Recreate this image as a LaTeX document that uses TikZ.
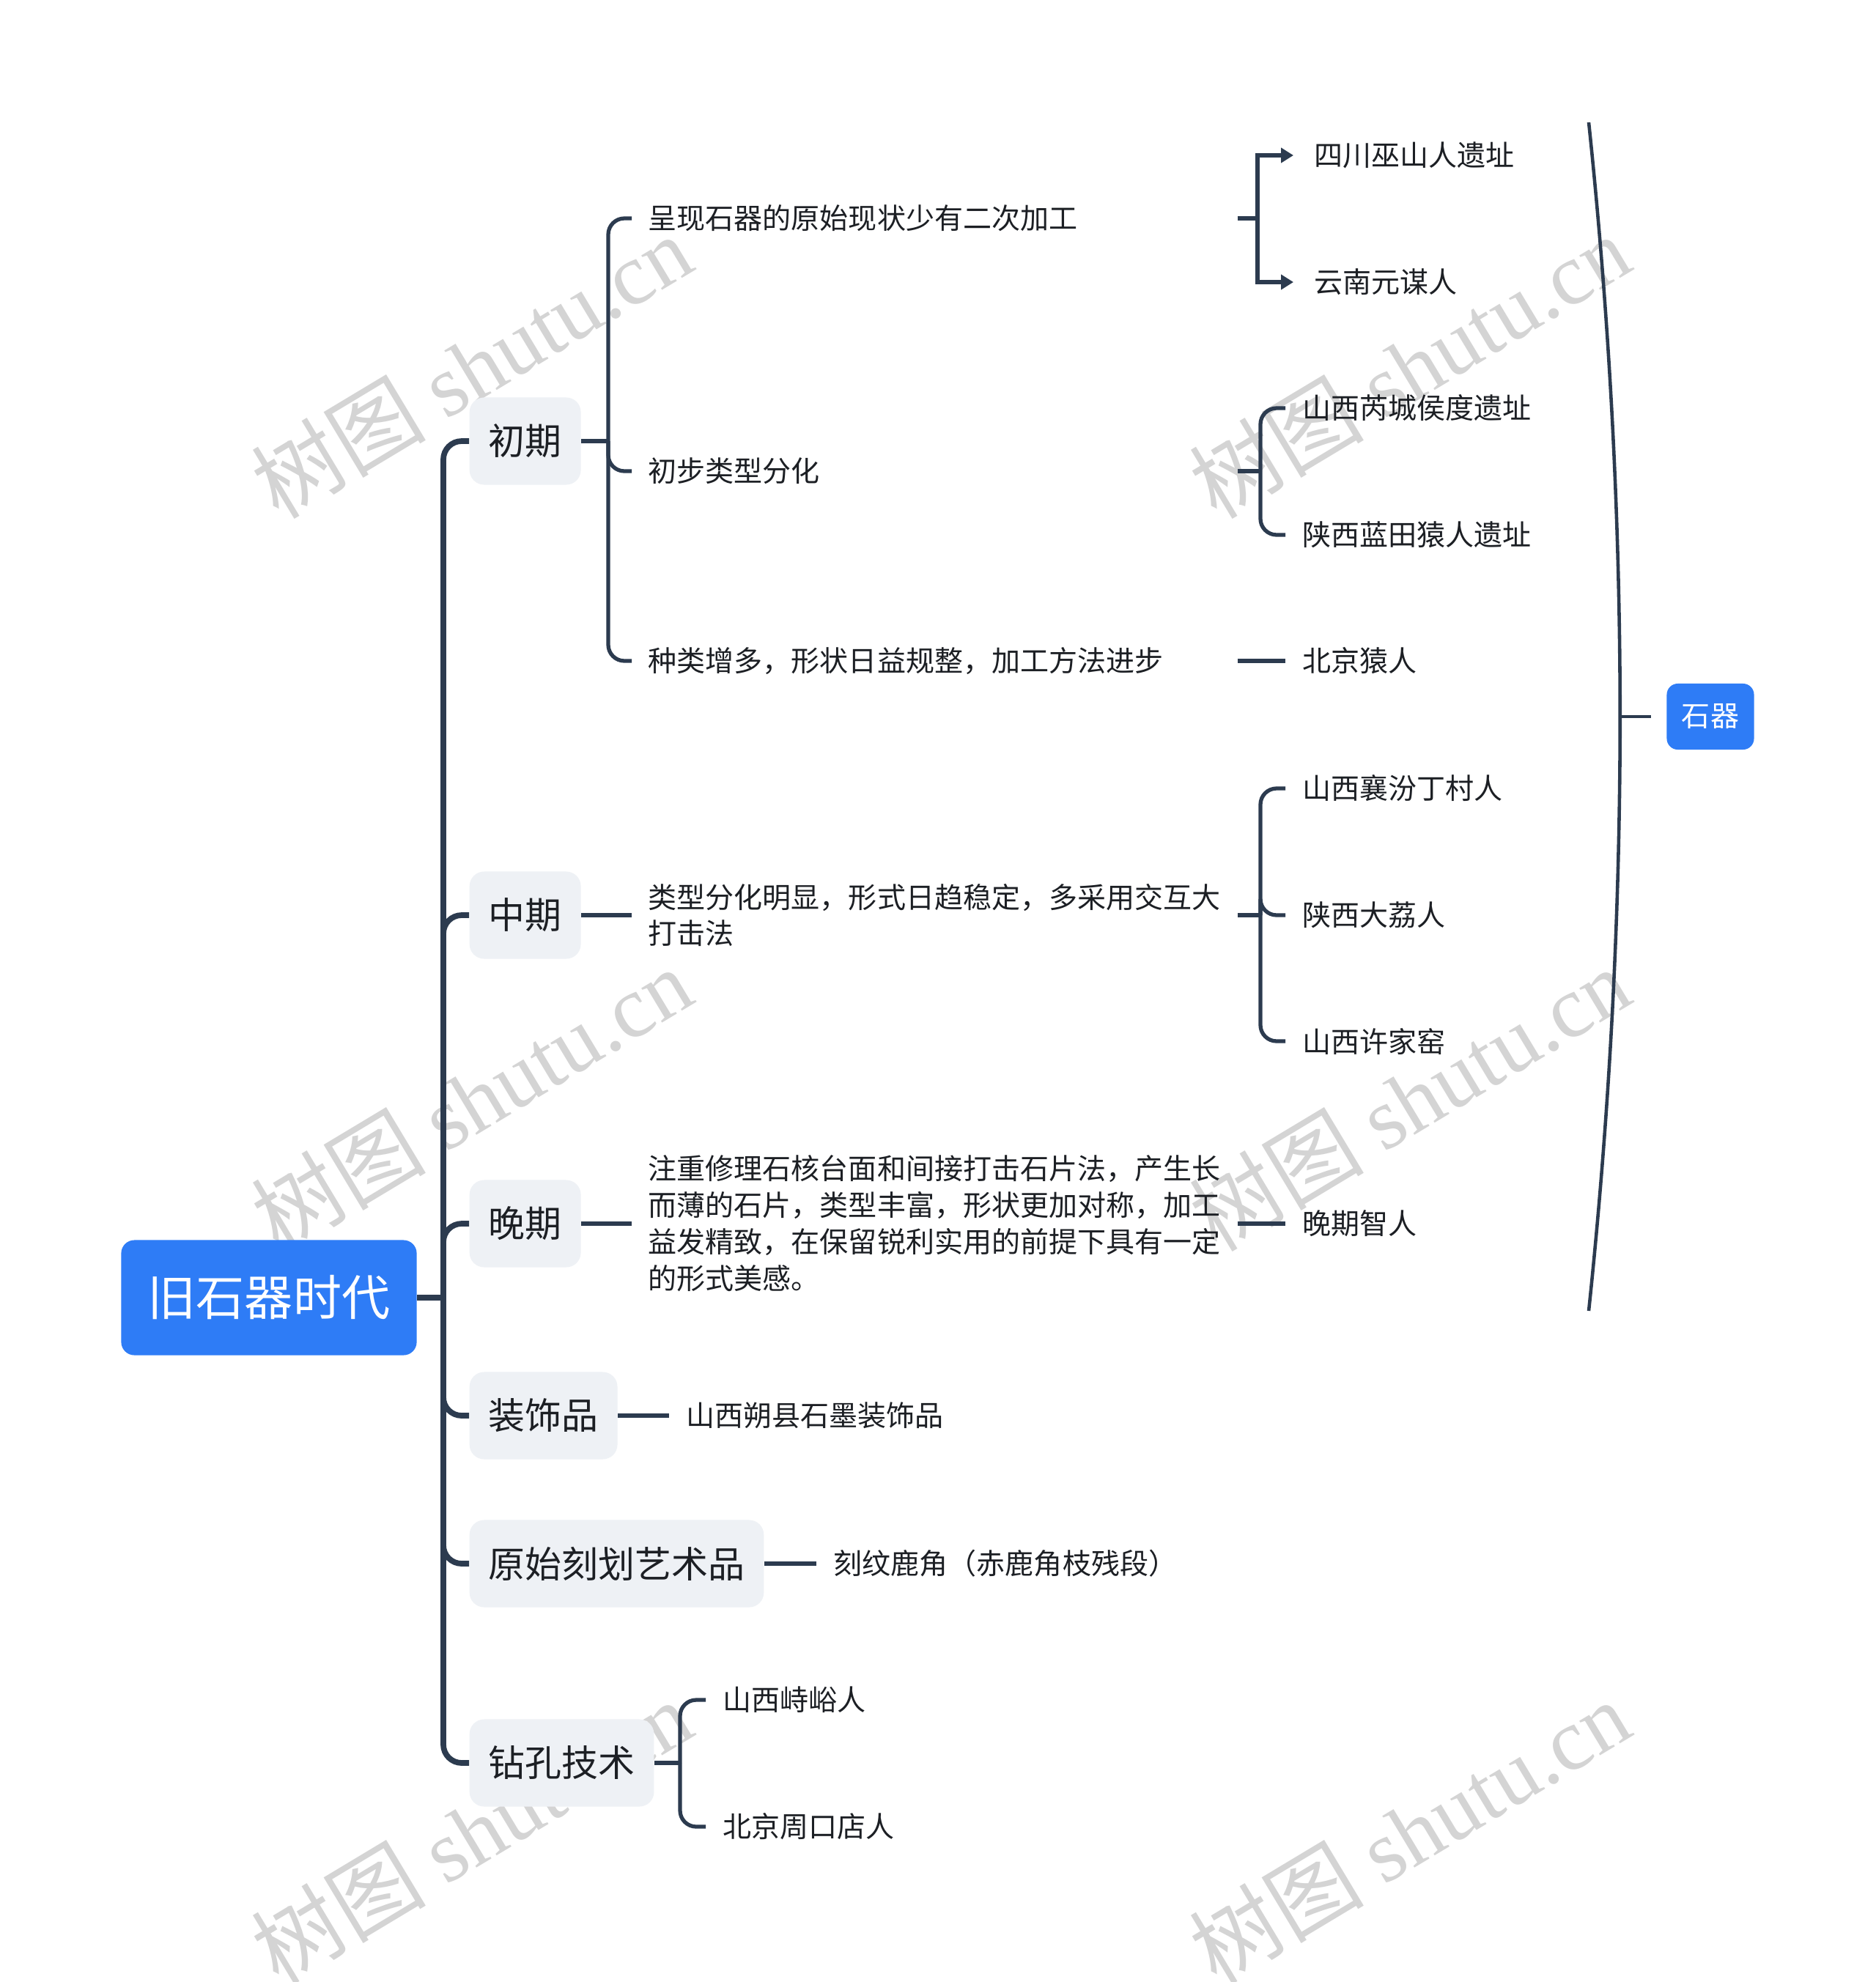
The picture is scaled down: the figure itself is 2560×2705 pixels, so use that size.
\documentclass[tikz,border=0pt]{standalone}
\usepackage{fontspec}
\setmainfont{Noto Sans CJK SC}
\newfontfamily\marklatin{Liberation Serif}
\usepackage{tikz}
\usetikzlibrary{arrows.meta}
\definecolor{MapBlue}{HTML}{2E7CF6}
\definecolor{MapLine}{HTML}{2C3B4F}
\definecolor{MapTint}{HTML}{EEF1F5}
\definecolor{MapInk}{HTML}{1C1F24}
\definecolor{MapWater}{HTML}{D4D4D4}
\tikzset{
  trunk/.style={draw=MapLine,line width=2.2pt,rounded corners=0.25cm},
  branch/.style={draw=MapLine,line width=1.5pt,rounded corners=0.22cm},
  pointer/.style={draw=MapLine,line width=1.5pt,-{Triangle[length=1.7mm,width=2mm]},shorten >=0.05cm},
  brace/.style={draw=MapLine,line width=1.3pt},
  rootbox/.style={fill=MapBlue,rounded corners=0.18cm,text=white,minimum width=4.03cm,minimum height=1.57cm,font=\fontsize{18.8}{22}\selectfont},
  stage/.style={fill=MapTint,rounded corners=0.2cm,text=MapInk,inner xsep=0.26cm,minimum height=1.19cm,font=\fontsize{14.2}{17}\selectfont,anchor=west},
  detail/.style={text=MapInk,inner xsep=0.22cm,text width=7.81cm,align=left,font=\fontsize{11.1}{14.2}\selectfont,anchor=west},
  leaf/.style={text=MapInk,inner xsep=0.23cm,font=\fontsize{11.1}{14.2}\selectfont,anchor=west},
  tag/.style={fill=MapBlue,rounded corners=0.15cm,text=white,minimum width=1.19cm,minimum height=0.9cm,font=\fontsize{11.1}{14.2}\selectfont},
  watermark/.style={text=MapWater,rotate=31,font=\fontsize{34}{34}\selectfont}
}

\begin{document}
\begin{tikzpicture}[x=0.01cm,y=-0.01cm]
  \fill[white] (0,0) rectangle (2560,2705);
  \useasboundingbox (0,0) rectangle (2560,2705);

  % site marks behind the map
  \foreach \wy in {500,1500,2500} {
    \node[watermark] (markl-\wy) at (643,\wy) {树图 {\marklatin shutu.cn}};
    \node[watermark] (markr-\wy) at (1923,\wy) {树图 {\marklatin shutu.cn}};
  }

  % root and the six periods
  \node[rootbox] (root) at (367,1771) {旧石器时代};
  \coordinate (spine) at (605,1771);
  \node[stage] (early) at (640,602) {初期};
  \node[stage] (middle) at (640,1249) {中期};
  \node[stage] (late) at (640,1670) {晚期};
  \node[stage] (ornament) at (640,1932) {装饰品};
  \node[stage] (carving) at (640,2134) {原始刻划艺术品};
  \node[stage] (drilling) at (640,2406) {钻孔技术};
  \draw[trunk] (root.east) -- (spine);
  \foreach \period in {early,middle,late,ornament,carving,drilling}
    \draw[trunk] (spine) |- (\period.west);

  % early period
  \coordinate (earlyfork) at (830,602);
  \node[detail] (flake) at (862,298) {呈现石器的原始现状少有二次加工};
  \node[detail] (sorting) at (862,643) {初步类型分化};
  \node[detail] (variety) at (862,902) {种类增多，形状日益规整，加工方法进步};
  \draw[branch] (early.east) -- (earlyfork);
  \foreach \item in {flake,sorting,variety}
    \draw[branch] (earlyfork) |- (\item.west);

  \coordinate (flakefork) at (1716,298);
  \node[leaf] (wushan) at (1770,212) {四川巫山人遗址};
  \node[leaf] (yuanmou) at (1770,385) {云南元谋人};
  \draw[branch] (flake.east) -- (flakefork);
  \draw[pointer] (flakefork) |- (wushan.west);
  \draw[pointer] (flakefork) |- (yuanmou.west);

  \coordinate (sortfork) at (1720,643);
  \node[leaf] (houdu) at (1754,557) {山西芮城侯度遗址};
  \node[leaf] (lantian) at (1754,730) {陕西蓝田猿人遗址};
  \draw[branch] (sorting.east) -- (sortfork);
  \draw[branch] (sortfork) |- (houdu.west);
  \draw[branch] (sortfork) |- (lantian.west);

  \node[leaf] (peking) at (1754,902) {北京猿人};
  \draw[branch] (variety.east) -- (peking.west);

  % middle period
  \node[detail] (midtext) at (862,1249) {类型分化明显，形式日趋稳定，多采用交互大\\打击法};
  \draw[branch] (middle.east) -- (midtext.west);
  \coordinate (midfork) at (1720,1249);
  \node[leaf] (dingcun) at (1754,1076) {山西襄汾丁村人};
  \node[leaf] (dali) at (1754,1249) {陕西大荔人};
  \node[leaf] (xujiayao) at (1754,1421) {山西许家窑};
  \draw[branch] (midtext.east) -- (midfork);
  \foreach \item in {dingcun,dali,xujiayao}
    \draw[branch] (midfork) |- (\item.west);

  % late period
  \node[detail] (latetext) at (862,1670) {注重修理石核台面和间接打击石片法，产生长\\而薄的石片，类型丰富，形状更加对称，加工\\益发精致，在保留锐利实用的前提下具有一定\\的形式美感。};
  \node[leaf] (sapiens) at (1754,1670) {晚期智人};
  \draw[branch] (late.east) -- (latetext.west);
  \draw[branch] (latetext.east) -- (sapiens.west);

  % ornaments, carving, drilling
  \node[leaf] (shuoxian) at (913,1932) {山西朔县石墨装饰品};
  \draw[branch] (ornament.east) -- (shuoxian.west);
  \node[leaf] (antler) at (1114,2134) {刻纹鹿角（赤鹿角枝残段）};
  \draw[branch] (carving.east) -- (antler.west);

  \coordinate (drillfork) at (928,2406);
  \node[leaf] (shiyu) at (963,2320) {山西峙峪人};
  \node[leaf] (zhoukoudian) at (963,2493) {北京周口店人};
  \draw[branch] (drilling.east) -- (drillfork);
  \draw[branch] (drillfork) |- (shiyu.west);
  \draw[branch] (drillfork) |- (zhoukoudian.west);

  % summary brace
  \coordinate (bracetop) at (2168,167);
  \coordinate (bracebot) at (2168,1789);
  \coordinate (bracemid) at (2211,978);
  \node[tag] (stone) at (2334,978) {石器};
  \draw[brace] (bracetop) .. controls (2225,708) and (2225,1248) .. (bracebot);
  \draw[brace,shorten >=0.21cm] (bracemid) -- (stone.west);
\end{tikzpicture}
\end{document}
